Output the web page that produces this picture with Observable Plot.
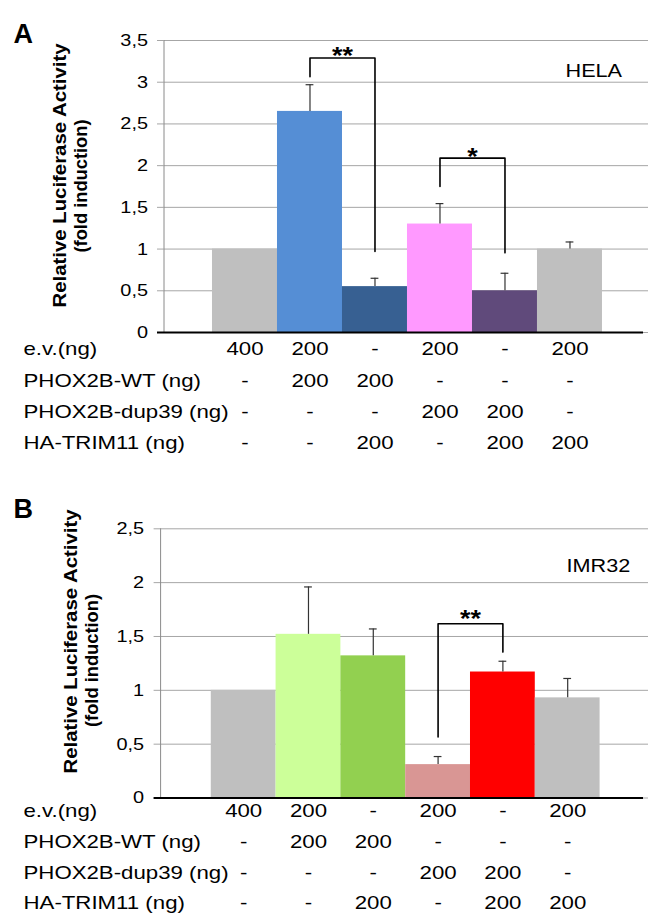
<!DOCTYPE html>
<html>
<head>
<meta charset="utf-8">
<script src="https://cdn.jsdelivr.net/npm/d3@7"></script>
<script src="https://cdn.jsdelivr.net/npm/@observablehq/plot@0.6"></script>
<style>
  body { margin: 0; background: #fff; }
  #wrap { width: 650px; }
  #wrap svg { display: block; overflow: visible; }
</style>
</head>
<body>
<div id="wrap"></div>
<script>
// ---------- data ----------
const conditions = [1, 2, 3, 4, 5, 6];

const helaValues = [1.0, 2.65, 0.55, 1.30, 0.50, 1.0];
const helaErrors = [0, 0.32, 0.10, 0.245, 0.21, 0.085];
const helaColors = ["#bfbfbf", "#558ed5", "#376092", "#ff99ff", "#604a7b", "#bfbfbf"];

const imr32Values = [1.0, 1.52, 1.32, 0.31, 1.17, 0.93];
const imr32Errors = [0, 0.44, 0.25, 0.075, 0.10, 0.18];
const imr32Colors = ["#bfbfbf", "#ccff99", "#92d050", "#d99694", "#ff0000", "#bfbfbf"];

const yTicksHela = [0, 0.5, 1, 1.5, 2, 2.5, 3, 3.5];
const yTicksImr32 = [0, 0.5, 1, 1.5, 2, 2.5];

const rowLabels = ["e.v.(ng)", "PHOX2B-WT (ng)", "PHOX2B-dup39 (ng)", "HA-TRIM11 (ng)"];
const evNg    = ["400", "200", "-", "200", "-", "200"];
const wtNg    = ["-", "200", "200", "-", "-", "-"];
const dup39Ng = ["-", "-", "-", "200", "200", "-"];
const trimNg  = ["-", "-", "200", "-", "200", "200"];

// significance brackets: from/to condition, left-leg end, top, right-leg end
const helaBrackets = [
  {from: 2, to: 3, left: 3.065, top: 3.29, right: 0.97, label: "**"},
  {from: 4, to: 5, left: 1.75, top: 2.09, right: 0.955, label: "*"}
];
const imr32Brackets = [
  {from: 4, to: 5, left: 0.566, top: 1.618, right: 1.355, label: "**"}
];

const yAxisTitle = "Relative Luciferase Activity";
const yAxisSub = "(fold induction)";

// ---------- drawing ----------
const fmt = d => String(d).replace(".", ",");
const capHalf = 0.06;

function panel(cfg) {
  const rows = [evNg, wtNg, dup39Ng, trimNg];
  const bars = conditions.map((c, i) => ({c, v: cfg.values[i], e: cfg.errors[i]}));
  const errs = bars.filter(d => d.e > 0);
  const bracketPts = cfg.brackets.flatMap((b, k) => [
    {id: k, x: b.from, y: b.left}, {id: k, x: b.from, y: b.top},
    {id: k, x: b.to, y: b.top}, {id: k, x: b.to, y: b.right}
  ]);
  const ml = cfg.marginLeft;
  const frameMid = (cfg.marginTop + (cfg.height - cfg.marginBottom)) / 2;
  const marks = [
    Plot.gridY(cfg.ticks, {stroke: "#a6a6a6", strokeOpacity: 1}),
    Plot.axisY(cfg.ticks, {tickSize: 6.5, tickPadding: cfg.tickPadding, tickFormat: fmt,
      fontSize: 17, stroke: "#a6a6a6", fill: "#000", label: null}),
    Plot.ruleX([cfg.xDomain[0]], {stroke: "#8a8a8a"}),
    Plot.rectY(bars, {x1: d => d.c - 0.5, x2: d => d.c + 0.5, y: "v", fill: "c"}),
    Plot.ruleX(errs, {x: "c", y1: "v", y2: d => d.v + d.e, stroke: "#333", strokeWidth: 1.2}),
    Plot.ruleY(errs, {x1: d => d.c - capHalf, x2: d => d.c + capHalf, y: d => d.v + d.e, stroke: "#333", strokeWidth: 1.2}),
    Plot.ruleY([0], {stroke: "#000", strokeWidth: 2, insetLeft: -6.5, insetRight: 5}),
    Plot.line(bracketPts, {x: "x", y: "y", z: "id", stroke: "#000", strokeWidth: 1.6}),
    Plot.text(cfg.brackets, {x: d => (d.from + d.to) / 2, y: "top", text: "label",
      fontSize: 23, fontWeight: "bold", dy: cfg.starDy}),
    Plot.text([cfg.cellLine], {frameAnchor: "top-left", dx: cfg.cellX - ml, dy: cfg.cellY - cfg.marginTop,
      textAnchor: "start", fontSize: 18.5}),
    // rotated titles anchored at their start (bottom end) so the widening grows upward
    Plot.text([yAxisTitle], {frameAnchor: "left", rotate: -90, textAnchor: "start",
      dx: cfg.lab1X - ml, dy: cfg.lab1Start - frameMid, fontSize: 18.5, fontWeight: "bold"}),
    Plot.text([yAxisSub], {frameAnchor: "left", rotate: -90, textAnchor: "start",
      dx: cfg.lab2X - ml, dy: cfg.lab2Start - frameMid, fontSize: 18.5, fontWeight: "bold"}),
    Plot.text([cfg.letter], {frameAnchor: "top-left", dx: 13 - ml, dy: cfg.letterY - cfg.marginTop,
      textAnchor: "start", fontSize: 27, fontWeight: "bold"})
  ];
  rows.forEach((row, r) => {
    marks.push(Plot.text(row, {x: (d, i) => conditions[i], text: d => d, frameAnchor: "bottom",
      dy: cfg.rowDy[r], fontSize: 19}));
    marks.push(Plot.text([rowLabels[r]], {frameAnchor: "bottom-left", dx: 23 - ml, dy: cfg.rowDy[r],
      textAnchor: "start", fontSize: 19}));
  });
  return Plot.plot({
    width: 650,
    height: cfg.height,
    marginLeft: ml,
    marginRight: 2,
    marginTop: cfg.marginTop,
    marginBottom: cfg.marginBottom,
    x: {domain: cfg.xDomain, axis: null},
    y: {domain: cfg.yDomain, axis: null},
    color: {type: "ordinal", domain: conditions, range: cfg.colors},
    style: {fontFamily: "'Liberation Sans', Arial, Helvetica, sans-serif", color: "#000", background: "#fff"},
    marks
  });
}

const wrap = document.getElementById("wrap");
const svgA = panel({
  values: helaValues, errors: helaErrors, colors: helaColors, brackets: helaBrackets,
  ticks: yTicksHela, yDomain: [0, 3.5], xDomain: [-0.246, 7.208],
  height: 470, marginLeft: 163.5, marginTop: 40, marginBottom: 138, tickPadding: 9.5,
  cellLine: "HELA", cellX: 565, cellY: 63, starDy: -1,
  lab1X: 60, lab1Start: 307, lab2X: 81, lab2Start: 252,
  letter: "A", letterY: 23,
  rowDy: [22, 54, 85, 116]
});
const svgB = panel({
  values: imr32Values, errors: imr32Errors, colors: imr32Colors, brackets: imr32Brackets,
  ticks: yTicksImr32, yDomain: [0, 2.5], xDomain: [-0.282, 7.247],
  height: 453, marginLeft: 160.1, marginTop: 58.3, marginBottom: 125.5, tickPadding: 10,
  cellLine: "IMR32", cellX: 566, cellY: 88, starDy: -4,
  lab1X: 70.6, lab1Start: 303, lab2X: 92, lab2Start: 256.5,
  letter: "B", letterY: 28,
  rowDy: [19, 50, 81, 111]
});
wrap.appendChild(svgA);
wrap.appendChild(svgB);

// the reference's type is set slightly wide: widen each text run along its reading direction
const titleLengths = new Map([[yAxisTitle, 264], [yAxisSub, 133]]);
for (const t of wrap.querySelectorAll("text")) {
  const s = t.textContent;
  if (s === "A" || s === "B") continue;
  const target = titleLengths.has(s) ? titleLengths.get(s) : t.getComputedTextLength() * 1.17;
  if (target > 0) {
    t.setAttribute("textLength", target.toFixed(2));
    t.setAttribute("lengthAdjust", "spacingAndGlyphs");
  }
}
</script>
</body>
</html>
